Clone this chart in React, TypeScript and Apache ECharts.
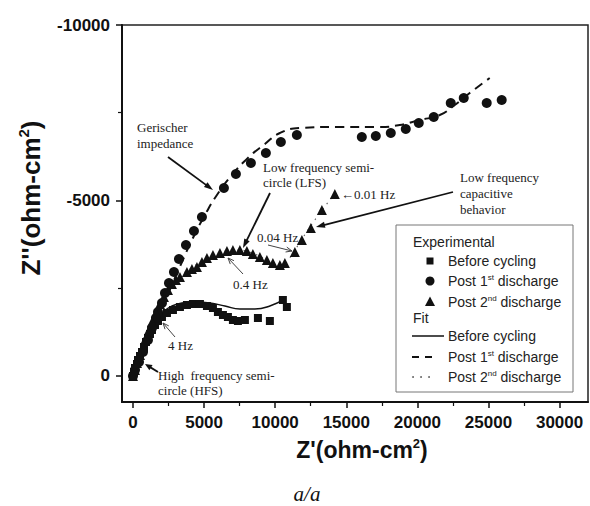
import React, { useEffect, useRef } from 'react';
import * as echarts from 'echarts';

// Axis ticks
const xMajorTicks = [0, 5000, 10000, 15000, 20000, 25000, 30000];
const xMinorTicks = [2500, 7500, 12500, 17500, 22500, 27500];
const yMajorTicks = [-10000, -5000, 0];
const yMinorTicks = [-7500, -2500];

// Experimental data [Z', Z'']
const beforeCycling = [[0,0],[70,-114],[141,-228],[281,-342],[351,-456],[492,-570],[632,-684],[773,-826],[914,-969],[1054,-1083],[1195,-1197],[1335,-1311],[1546,-1453],[1757,-1567],[2038,-1681],[2389,-1795],[2811,-1880],[3303,-1966],[3795,-2023],[4216,-2051],[4708,-2051],[5200,-1994],[5622,-1937],[5973,-1823],[6325,-1738],[6676,-1681],[7027,-1595],[7379,-1567],[7871,-1595],[8786,-1652],[9627,-1567],[10541,-2165],[10822,-1966]];

const post1st = [[0,0],[141,-171],[422,-399],[703,-684],[1054,-1026],[1335,-1368],[1616,-1652],[1757,-1823],[2038,-2080],[2249,-2365],[2530,-2650],[2881,-2963],[3233,-3333],[3725,-3732],[4287,-4131],[4849,-4530],[6395,-5356],[7238,-5755],[8292,-6068],[9346,-6353],[10400,-6667],[11525,-6866],[16093,-6809],[17077,-6838],[18131,-6923],[19185,-7037],[20098,-7208],[21152,-7379],[22347,-7778],[23261,-7920],[24877,-7778],[25931,-7863]];

const post2nd = [[0,0],[141,-171],[281,-370],[492,-598],[703,-826],[914,-1083],[1124,-1311],[1335,-1538],[1616,-1795],[1897,-2051],[2178,-2251],[2460,-2450],[2741,-2621],[3022,-2735],[3303,-2821],[3795,-2963],[4146,-3048],[4498,-3105],[4849,-3248],[5200,-3362],[5622,-3447],[6114,-3504],[6606,-3561],[7027,-3590],[7519,-3590],[8011,-3561],[8433,-3476],[8925,-3390],[9417,-3305],[9838,-3219],[10330,-3162],[10682,-3219],[11384,-3533],[11876,-3875],[12509,-4217],[13282,-4729],[14196,-5185]];

// Fits
const fitBefore = [[0,0],[351,-399],[703,-798],[1054,-1140],[1546,-1538],[2108,-1823],[2741,-1994],[3443,-2080],[4357,-2108],[5411,-2080],[6465,-1994],[7519,-1909],[8573,-1909],[9627,-1994],[10682,-2194]];

const fitPost1st = [[0,0],[492,-399],[984,-883],[1546,-1453],[2108,-2023],[2741,-2593],[3443,-3248],[4216,-3932],[5060,-4587],[5903,-5157],[6957,-5726],[8082,-6211],[9276,-6610],[10330,-6923],[11736,-7066],[14547,-7094],[17358,-7094],[18763,-7151],[20169,-7293],[21574,-7436],[22628,-7721],[23682,-8063],[25088,-8490]];

const fitPost2nd = [[0,0],[500,-620],[1100,-1300],[1700,-1850],[2400,-2400],[3200,-2800],[4200,-3100],[5200,-3350],[6200,-3520],[7200,-3590],[8200,-3530],[9200,-3350],[10000,-3200],[10500,-3180],[11000,-3350],[11800,-3850],[12800,-4450],[14200,-5200]];

const SERIF = "'Liberation Serif', 'Times New Roman', serif";
const SANS = "'Liberation Sans', Arial, sans-serif";

function arrowFilled(x1: number, y1: number, x2: number, y2: number, lw: number, hl: number, hw: number) {
  const a = Math.atan2(y2 - y1, x2 - x1);
  const bx = x2 - hl * Math.cos(a), by = y2 - hl * Math.sin(a);
  const px = (-Math.sin(a) * hw) / 2, py = (Math.cos(a) * hw) / 2;
  return [
    { type: 'line', z: 100, shape: { x1, y1, x2: bx + Math.cos(a) * 2, y2: by + Math.sin(a) * 2 }, style: { stroke: '#111', lineWidth: lw } },
    { type: 'polygon', z: 100, shape: { points: [[x2, y2], [bx + px, by + py], [bx - px, by - py]] }, style: { fill: '#111' } },
  ];
}

function arrowOpen(x1: number, y1: number, x2: number, y2: number, color: string, hl: number, hw: number) {
  const a = Math.atan2(y2 - y1, x2 - x1);
  const bx = x2 - hl * Math.cos(a), by = y2 - hl * Math.sin(a);
  const px = (-Math.sin(a) * hw) / 2, py = (Math.cos(a) * hw) / 2;
  return [
    { type: 'line', z: 100, shape: { x1, y1, x2, y2 }, style: { stroke: color, lineWidth: 1 } },
    { type: 'polyline', z: 100, shape: { points: [[bx + px, by + py], [x2, y2], [bx - px, by - py]] }, style: { stroke: color, lineWidth: 1, fill: null } },
  ];
}

function label(text: string, x: number, y: number, font = SERIF, size = 13, extra: any = {}) {
  return {
    type: 'text', z: 100, x, y,
    style: { text, fill: '#222', font: `${size}px ${font}`, align: 'left', verticalAlign: 'middle', ...extra },
  };
}

function supText(parts: string, x: number, y: number) {
  return {
    type: 'text', z: 101, x, y,
    style: {
      text: parts, align: 'left', verticalAlign: 'middle', fill: '#222',
      rich: {
        n: { fontSize: 14, fontFamily: SANS, lineHeight: 16, verticalAlign: 'middle', fill: '#222' },
        s: { fontSize: 8, fontFamily: SANS, lineHeight: 8, verticalAlign: 'top', fill: '#222' },
      },
    },
  };
}

export default function App() {
  const ref = useRef<HTMLDivElement>(null);
  useEffect(() => {
    const chart = echarts.init(ref.current!, null, { renderer: 'svg' });
    const xMin = -773, xMax = 32000, yMin = -10000, yMax = 741;
    const graphics: any[] = [
      // Y axis title
      {
        type: 'text', z: 100, x: 31, y: 198, rotation: Math.PI / 2,
        style: {
          text: "{b|Z''(ohm-cm}{s|2}{b|)}", align: 'center', verticalAlign: 'middle',
          rich: {
            b: { fontSize: 26, fontWeight: 'bold', fontFamily: SANS, lineHeight: 30, verticalAlign: 'middle', fill: '#111' },
            s: { fontSize: 15, fontWeight: 'bold', fontFamily: SANS, lineHeight: 14, verticalAlign: 'top', fill: '#111' },
          },
        },
      },
      // X axis title
      {
        type: 'text', z: 100, x: 362, y: 450,
        style: {
          text: "{b|Z'(ohm-cm}{s|2}{b|)}", align: 'center', verticalAlign: 'middle',
          rich: {
            b: { fontSize: 23, fontWeight: 'bold', fontFamily: SANS, lineHeight: 26, verticalAlign: 'middle', fill: '#111' },
            s: { fontSize: 13, fontWeight: 'bold', fontFamily: SANS, lineHeight: 12, verticalAlign: 'top', fill: '#111' },
          },
        },
      },
      // caption
      {
        type: 'text', z: 100, x: 307, y: 494,
        style: { text: 'a/a', fill: '#111', font: `italic 21px ${SERIF}`, align: 'center', verticalAlign: 'middle' },
      },
      // annotations
      label('Gerischer', 137, 127),
      label('impedance', 137, 143),
      ...arrowFilled(168, 157, 213, 190, 1.8, 9, 6),
      label('Low frequency semi-', 263, 167),
      label('circle (LFS)', 263, 182),
      ...arrowFilled(270, 193, 243, 248, 1.8, 9, 6),
      label('\u21900.01 Hz', 341, 194),
      label('Low frequency', 460, 177),
      label('capacitive', 460, 193),
      label('behavior', 460, 209),
      ...arrowFilled(453, 192, 316, 227, 1.8, 9, 6),
      label('0.04 Hz', 257, 237),
      ...arrowOpen(268, 245, 292, 251, '#444', 6, 5),
      label('0.4 Hz', 233, 284),
      ...arrowOpen(243, 274, 228, 258, '#444', 6, 5),
      label('4 Hz', 168, 345),
      ...arrowOpen(175, 337, 163, 323, '#444', 6, 5),
      label('High  frequency semi-', 158, 375),
      label('circle (HFS)', 158, 390),
      ...arrowFilled(158, 372, 145, 364, 1.8, 7, 6),
      // legend box
      { type: 'rect', z: 99, shape: { x: 396, y: 225, width: 177, height: 167 }, style: { fill: '#fff', stroke: '#777', lineWidth: 1 } },
      label('Experimental', 413, 242, SANS, 14),
      { type: 'rect', z: 100, shape: { x: 426.5, y: 257.5, width: 7, height: 7 }, style: { fill: '#111' } },
      label('Before cycling', 448, 261, SANS, 14),
      { type: 'circle', z: 100, shape: { cx: 430, cy: 281, r: 4.5 }, style: { fill: '#111' } },
      supText('{n|Post 1}{s|st}{n| discharge}', 448, 281),
      { type: 'polygon', z: 100, shape: { points: [[430, 296.5], [425, 306], [435, 306]] }, style: { fill: '#111' } },
      supText('{n|Post 2}{s|nd}{n| discharge}', 448, 302),
      label('Fit', 413, 318, SANS, 14),
      { type: 'line', z: 100, shape: { x1: 412, y1: 336, x2: 444, y2: 336 }, style: { stroke: '#111', lineWidth: 1.5 } },
      label('Before cycling', 448, 336, SANS, 14),
      { type: 'line', z: 100, shape: { x1: 412, y1: 357, x2: 419, y2: 357 }, style: { stroke: '#111', lineWidth: 2 } },
      { type: 'line', z: 100, shape: { x1: 425, y1: 357, x2: 432, y2: 357 }, style: { stroke: '#111', lineWidth: 2 } },
      supText('{n|Post 1}{s|st}{n| discharge}', 448, 357),
      { type: 'circle', z: 100, shape: { cx: 413, cy: 377, r: 0.9 }, style: { fill: '#555' } },
      { type: 'circle', z: 100, shape: { cx: 421, cy: 377, r: 0.9 }, style: { fill: '#555' } },
      { type: 'circle', z: 100, shape: { cx: 429, cy: 377, r: 0.9 }, style: { fill: '#555' } },
      supText('{n|Post 2}{s|nd}{n| discharge}', 448, 377),
    ];

    const labelStyle = { fontSize: 17, fontWeight: 'bold', color: '#111', fontFamily: SANS };
    const option: any = {
      animation: false,
      backgroundColor: '#fff',
      grid: { left: 122, right: 2, top: 25, bottom: 104, show: true, borderColor: '#222', borderWidth: 1.5, backgroundColor: 'transparent', outerBoundsMode: 'none', containLabel: false },
      xAxis: [
        {
          type: 'value', min: xMin, max: xMax, position: 'bottom',
          axisLine: { show: true, onZero: false, lineStyle: { color: '#111', width: 2 } },
          axisTick: { show: true, customValues: xMajorTicks, length: 6, lineStyle: { color: '#111', width: 1.5 } },
          axisLabel: { customValues: xMajorTicks, formatter: (v: number) => String(v), margin: 12, ...labelStyle },
          splitLine: { show: false },
        },
        {
          type: 'value', min: xMin, max: xMax, position: 'bottom',
          axisLine: { show: false, onZero: false },
          axisTick: { show: true, customValues: xMinorTicks, length: 4, lineStyle: { color: '#111', width: 1.2 } },
          axisLabel: { show: false },
          splitLine: { show: false },
        },
      ],
      yAxis: [
        {
          type: 'value', min: yMin, max: yMax, inverse: true, position: 'left',
          axisLine: { show: true, onZero: false, lineStyle: { color: '#111', width: 2 } },
          axisTick: { show: true, customValues: yMajorTicks, length: 6, lineStyle: { color: '#111', width: 1.5 } },
          axisLabel: { customValues: yMajorTicks, formatter: (v: number) => String(v), margin: 12, ...labelStyle },
          splitLine: { show: false },
        },
        {
          type: 'value', min: yMin, max: yMax, inverse: true, position: 'left',
          axisLine: { show: false, onZero: false },
          axisTick: { show: true, customValues: yMinorTicks, length: 4, lineStyle: { color: '#111', width: 1.2 } },
          axisLabel: { show: false },
          splitLine: { show: false },
        },
      ],
      series: [
        { name: 'Fit Before cycling', type: 'line', data: fitBefore, smooth: true, showSymbol: false, symbol: 'none', lineStyle: { color: '#111', width: 1.5 }, z: 3 },
        { name: 'Fit Post 1st', type: 'line', data: fitPost1st, smooth: true, showSymbol: false, symbol: 'none', lineStyle: { color: '#111', width: 2, type: [9, 6] }, z: 3 },
        { name: 'Fit Post 2nd', type: 'line', data: fitPost2nd, smooth: true, showSymbol: false, symbol: 'none', lineStyle: { color: '#666', width: 1.2, type: [1.5, 5] }, z: 3 },
        { name: 'Before cycling', type: 'scatter', data: beforeCycling, symbol: 'rect', symbolSize: 8, itemStyle: { color: '#111', opacity: 1 }, z: 4 },
        { name: 'Post 1st discharge', type: 'scatter', data: post1st, symbol: 'circle', symbolSize: 10, itemStyle: { color: '#111', opacity: 1 }, z: 4 },
        { name: 'Post 2nd discharge', type: 'scatter', data: post2nd, symbol: 'triangle', symbolSize: 10, itemStyle: { color: '#111', opacity: 1 }, z: 4 },
      ],
      graphic: graphics,
    };
    chart.setOption(option);
    return () => chart.dispose();
  }, []);
  return <div ref={ref} style={{ position: 'absolute', left: 0, top: 0, width: 590, height: 506 }} />;
}
